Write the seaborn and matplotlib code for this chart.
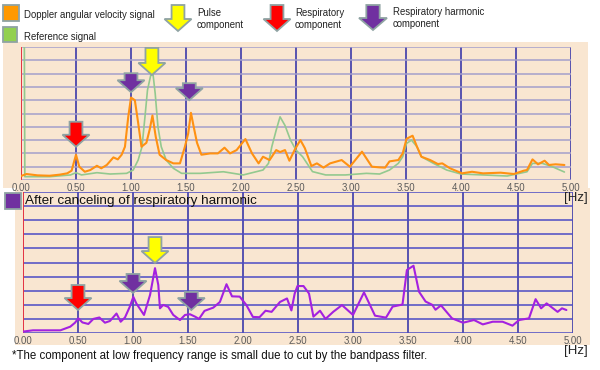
import numpy as np
import pandas as pd
import matplotlib
matplotlib.use('Agg')
import matplotlib.pyplot as plt
import matplotlib.transforms as mtransforms
from matplotlib.patches import Polygon, Rectangle
import seaborn as sns

# Spectre du signal Doppler (Hz -> amplitude en divisions de grille)
freq_doppler = [0.00, 0.05, 0.15, 0.26, 0.35, 0.42, 0.46, 0.50, 0.53, 0.58, 0.63, 0.69, 0.73, 0.78,
                0.84, 0.88, 0.915, 0.945, 0.975, 1.00, 1.035, 1.065, 1.095, 1.14, 1.17, 1.195, 1.225,
                1.26, 1.32, 1.385, 1.445, 1.49, 1.52, 1.545, 1.57, 1.60, 1.64, 1.72, 1.79, 1.85, 1.90,
                1.96, 2.04, 2.10, 2.16, 2.20, 2.26, 2.32, 2.355, 2.40, 2.44, 2.49, 2.54, 2.58, 2.64,
                2.69, 2.75, 2.81, 2.915, 2.99, 3.10, 3.19, 3.26, 3.31, 3.35, 3.43, 3.47, 3.505, 3.56,
                3.60, 3.64, 3.72, 3.79, 3.83, 3.90, 4.01, 4.10, 4.20, 4.36, 4.48, 4.57, 4.60, 4.65,
                4.70, 4.76, 4.80, 4.86, 4.94]
amp_doppler = [0.30, 0.45, 0.35, 0.32, 0.40, 0.50, 0.70, 1.90, 1.00, 0.62, 0.75, 1.07, 0.88, 1.13,
               1.70, 1.55, 1.90, 2.50, 4.75, 6.20, 6.00, 4.30, 2.50, 2.80, 3.80, 4.85, 3.25,
               1.90, 1.50, 1.25, 1.25, 2.50, 3.50, 5.05, 4.00, 2.80, 1.90, 2.00, 2.00, 2.43, 2.00,
               2.25, 3.08, 2.00, 1.25, 1.75, 1.50, 2.25, 2.10, 2.25, 1.45, 2.30, 3.00, 2.40, 1.05,
               1.25, 0.93, 1.25, 1.50, 1.00, 2.13, 1.00, 0.95, 0.93, 1.40, 1.50, 2.00, 3.10, 3.33,
               2.50, 1.75, 1.50, 1.20, 1.25, 0.88, 0.50, 0.62, 0.50, 0.55, 0.45, 0.70, 0.75, 1.55,
               1.18, 1.45, 1.13, 1.18, 1.13]

# Signal de référence
freq_ref = [0.03, 0.035, 0.26, 0.45, 0.50, 0.55, 0.69, 0.81, 0.96, 1.02, 1.065, 1.10, 1.127, 1.15,
            1.18, 1.20, 1.22, 1.245, 1.275, 1.32, 1.385, 1.46, 1.63, 1.84, 2.02, 2.20, 2.25, 2.28,
            2.32, 2.355, 2.40, 2.45, 2.50, 2.56, 2.65, 2.77, 2.95, 3.14, 3.26, 3.35, 3.43, 3.47,
            3.505, 3.55, 3.60, 3.64, 3.75, 3.87, 4.00, 4.20, 4.42, 4.60, 4.65, 4.74, 4.83, 4.94]
amp_ref = [11.0, 0.25, 0.25, 0.38, 0.55, 0.38, 0.55, 0.45, 0.50, 0.75, 1.50, 2.50, 4.75, 6.77,
           7.90, 7.97, 6.50, 4.00, 2.50, 1.50, 0.88, 0.50, 0.50, 0.62, 0.38, 0.75, 1.25, 2.50,
           3.75, 4.75, 4.10, 3.00, 2.25, 1.75, 0.63, 0.38, 0.38, 0.50, 0.45, 0.75, 1.25, 1.75,
           2.75, 3.00, 2.50, 1.75, 1.25, 0.75, 0.45, 0.38, 0.30, 0.62, 1.25, 1.25, 1.00, 0.60]

# Après suppression de l'harmonique respiratoire
freq_cancel = [0.00, 0.09, 0.34, 0.43, 0.473, 0.503, 0.54, 0.594, 0.64, 0.694, 0.745, 0.79, 0.85,
               0.888, 0.927, 0.97, 1.003, 1.03, 1.10, 1.155, 1.20, 1.23, 1.245, 1.275, 1.32, 1.366,
               1.427, 1.473, 1.518, 1.564, 1.60, 1.65, 1.73, 1.79, 1.85, 1.90, 1.97, 2.03, 2.09,
               2.15, 2.205, 2.26, 2.336, 2.40, 2.44, 2.47, 2.495, 2.55, 2.60, 2.64, 2.70, 2.75,
               2.82, 2.90, 3.00, 3.10, 3.20, 3.30, 3.36, 3.45, 3.49, 3.55, 3.60, 3.66, 3.72, 3.75,
               3.80, 3.90, 4.00, 4.10, 4.18, 4.27, 4.36, 4.45, 4.51, 4.60, 4.66, 4.71, 4.76, 4.86,
               4.90, 4.94]
amp_cancel = [0.10, 0.19, 0.19, 0.45, 0.73, 1.04, 0.75, 0.64, 1.00, 1.10, 0.73, 0.85, 1.38,
              0.80, 1.10, 1.85, 2.56, 2.10, 1.28, 2.70, 4.60, 3.40, 1.75, 1.99, 1.85, 1.28,
              0.92, 1.28, 1.33, 1.16, 1.00, 1.57, 1.80, 2.20, 3.46, 2.60, 2.58, 1.99, 1.14,
              1.12, 1.58, 1.50, 2.20, 2.45, 1.60, 2.80, 3.33, 3.33, 2.80, 1.16, 1.58, 1.00,
              1.50, 1.98, 1.28, 2.88, 1.23, 1.09, 1.87, 2.02, 4.47, 4.77, 2.93, 2.23, 2.00, 1.65,
              1.96, 1.04, 0.73, 0.92, 0.61, 0.80, 0.80, 0.52, 0.92, 1.04, 2.40, 1.75, 2.10, 1.50,
              1.75, 1.63]

# Flèches (fréquence, pointe, hauteur en px)
arrows_top = [(0.50, 2.5, 25, 'red'), (1.00, 6.6, 19, 'purple'),
              (1.19, 7.9, 27, 'yellow'), (1.53, 6.0, 17, 'purple')]
arrows_bottom = [(0.50, 1.63, 25, 'red'), (1.00, 2.84, 19, 'purple'),
                 (1.20, 4.96, 26, 'yellow'), (1.53, 1.63, 18, 'purple')]

xticks = np.arange(0, 5.01, 0.5)
xticklabels = ['%.2f' % t for t in xticks]

colors = {'red': '#ff0000', 'yellow': '#ffff00', 'purple': '#7030a0'}
beige = '#f9e6d1'

sns.set_theme(style='white')
plt.rcParams['font.family'] = ['Liberation Sans', 'DejaVu Sans']

W, H = 600, 370
fig = plt.figure(figsize=(6, 3.7), dpi=100)


def fx(x):
    return x / W


def fy(y):
    return 1 - y / H


def down_arrow(x, y, h, color, base, w=27):
    # flèche vers le bas, pointe en (x, y), dimensions en pixels
    hw, sw, hh = w / 2, w / 4.2, 12
    verts = np.array([(-sw, h), (sw, h), (sw, hh), (hw, hh), (0, 0), (-hw, hh), (-sw, hh)]) / 100.0
    tr = fig.dpi_scale_trans + mtransforms.ScaledTranslation(x, y, base)
    p = Polygon(verts, closed=True, transform=tr, facecolor=colors[color],
                edgecolor='#8fa3a3', linewidth=1.3, zorder=6, clip_on=False)
    fig.add_artist(p)


# fonds beiges des deux panneaux
fig.patches.append(Rectangle((fx(3), fy(188)), fx(585), 146 / H, transform=fig.transFigure,
                             facecolor=beige, edgecolor='none', zorder=-10))
fig.patches.append(Rectangle((fx(15), fy(345)), fx(575), 157 / H, transform=fig.transFigure,
                             facecolor=beige, edgecolor='none', zorder=-10))


def setup_axes(ax, hcolor):
    ax.set_facecolor('none')
    ax.set_xlim(0, 5)
    ax.set_ylim(0, 10)
    ax.set_xticks(xticks)
    ax.set_xticklabels(xticklabels, fontsize=6.9, color='#5a5a5a')
    ax.set_yticks(range(0, 11))
    ax.set_yticklabels([])
    ax.tick_params(length=0, pad=2)
    for t in xticks:
        ax.axvline(t, color='#2b2ba6', lw=1.1, zorder=1)
    for v in range(0, 11):
        ax.axhline(v, color=hcolor, lw=1.1, zorder=1)
    for s in ax.spines.values():
        s.set_visible(False)
    ax.axvline(0, color='#ff3030', lw=1.2, zorder=2)
    ax.set_xlabel('')
    ax.set_ylabel('')


# graphique du haut
ax1 = fig.add_axes([fx(21), fy(180), 550 / W, 133 / H])
sns.lineplot(x=freq_ref, y=amp_ref, ax=ax1, color='#93c98f', linewidth=1.2, zorder=3)
sns.lineplot(x=freq_doppler, y=amp_doppler, ax=ax1, color='#ff9112', linewidth=1.5, zorder=4)
setup_axes(ax1, '#a39fcb')
for f, v, h, c in arrows_top:
    down_arrow(f, v, h, c, ax1.transData)

# graphique du bas
ax2 = fig.add_axes([fx(23), fy(333), 550 / W, 141 / H])
sns.lineplot(x=freq_cancel, y=amp_cancel, ax=ax2, color='#a421e0', linewidth=1.5, zorder=4)
setup_axes(ax2, '#4c4cc4')
for f, v, h, c in arrows_bottom:
    down_arrow(f, v, h, c, ax2.transData)

# légendes
def legend_square(x0, y0, x1, y1, color):
    fig.patches.append(Rectangle((fx(x0), fy(y1)), (x1 - x0) / W, (y1 - y0) / H,
                                 transform=fig.transFigure, facecolor=color,
                                 edgecolor='#8fa3a3', linewidth=1.3, zorder=5))


legend_square(3, 5, 19, 21, '#ff9900')
fig.text(fx(24), fy(15), 'Doppler angular velocity signal', fontsize=6.9, va='center', color='#222222')
legend_square(3, 27, 17, 42, '#92d050')
fig.text(fx(24), fy(37), 'Reference signal', fontsize=6.9, va='center', color='#222222')

down_arrow(fx(178), fy(31), 26, 'yellow', fig.transFigure)
fig.text(fx(197), fy(19), 'Pulse\ncomponent', fontsize=6.9, va='center', color='#222222', linespacing=1.2)
down_arrow(fx(277), fy(31), 26, 'red', fig.transFigure)
fig.text(fx(295), fy(19), 'Respiratory\ncomponent', fontsize=6.9, va='center', color='#222222', linespacing=1.2)
down_arrow(fx(373), fy(30), 25, 'purple', fig.transFigure, w=28)
fig.text(fx(393), fy(18), 'Respiratory harmonic\ncomponent', fontsize=6.9, va='center', color='#222222',
         linespacing=1.2)

legend_square(5, 193, 21, 209, '#7030a0')
fig.text(fx(25), fy(201), 'After canceling of respiratory harmonic', fontsize=9.7, va='center', color='#111111')

fig.text(fx(564), fy(198), '[Hz]', fontsize=9.5, va='center', color='#222222')
fig.text(fx(564), fy(351), '[Hz]', fontsize=9.5, va='center', color='#222222')
fig.text(fx(12), fy(356), '*The component at low frequency range is small due to cut by the bandpass filter.',
         fontsize=8.3, va='center', color='#111111')

fig.savefig('out.png', dpi=100)
